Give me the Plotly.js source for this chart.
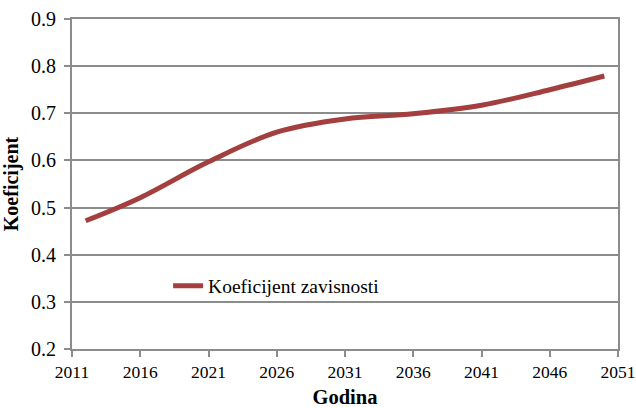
<!DOCTYPE html>
<html>
<head>
<meta charset="utf-8">
<script src="https://cdn.plot.ly/plotly-3.0.1.min.js"></script>
<style>html,body{margin:0;padding:0;background:#fff}#chart{width:636px;height:408px}</style>
</head>
<body>
<div id="chart"></div>
<script>
const years = [2012, 2016, 2021, 2026, 2031, 2036, 2041, 2046, 2050];
const koeficijent = [0.472, 0.521, 0.597, 0.660, 0.688, 0.699, 0.717, 0.750, 0.779];
const xTicks = [2011, 2016, 2021, 2026, 2031, 2036, 2041, 2046, 2051];
const yTicks = [0.2, 0.3, 0.4, 0.5, 0.6, 0.7, 0.8, 0.9];
const seriesName = 'Koeficijent zavisnosti';

const FONT = 'Liberation Serif';
const GRID = '#8c8c8c';

Plotly.newPlot('chart', [{
  x: years,
  y: koeficijent,
  type: 'scatter',
  mode: 'lines',
  name: seriesName,
  line: {color: '#a33f3e', width: 5, shape: 'spline', smoothing: 1}
}], {
  width: 636, height: 408,
  margin: {l: 72, r: 18, t: 19, b: 59},
  paper_bgcolor: '#fff', plot_bgcolor: '#fff',
  font: {family: FONT, size: 17, color: '#000'},
  showlegend: true,
  legend: {x: 0.176, y: 0.191, xanchor: 'left', yanchor: 'middle',
           bgcolor: 'rgba(0,0,0,0)', font: {family: FONT, size: 19.5, color: '#000'}},
  xaxis: {
    range: [2011, 2051], tickvals: xTicks, ticktext: xTicks.map(String),
    showgrid: false, zeroline: false,
    showline: true, linecolor: GRID, linewidth: 2, mirror: true,
    ticks: 'outside', ticklen: 6, tickcolor: GRID, tickwidth: 2,
    tickfont: {family: FONT, size: 17.5, color: '#000'},
    title: {text: '<b>Godina</b>', font: {family: FONT, size: 20.5, color: '#000'}, standoff: 15}
  },
  yaxis: {
    range: [0.2, 0.9], tickvals: yTicks, ticktext: yTicks.map(v => v.toFixed(1)),
    showgrid: true, gridcolor: GRID, gridwidth: 2, zeroline: false,
    showline: true, linecolor: GRID, linewidth: 2, mirror: true,
    ticks: 'outside', ticklen: 6, tickcolor: GRID, tickwidth: 2,
    ticklabelstandoff: 4,
    tickfont: {family: FONT, size: 20, color: '#000'},
    title: {text: '<b>Koeficijent</b>', font: {family: FONT, size: 20, color: '#000'}, standoff: 8}
  }
}, {staticPlot: true});
</script>
</body>
</html>
